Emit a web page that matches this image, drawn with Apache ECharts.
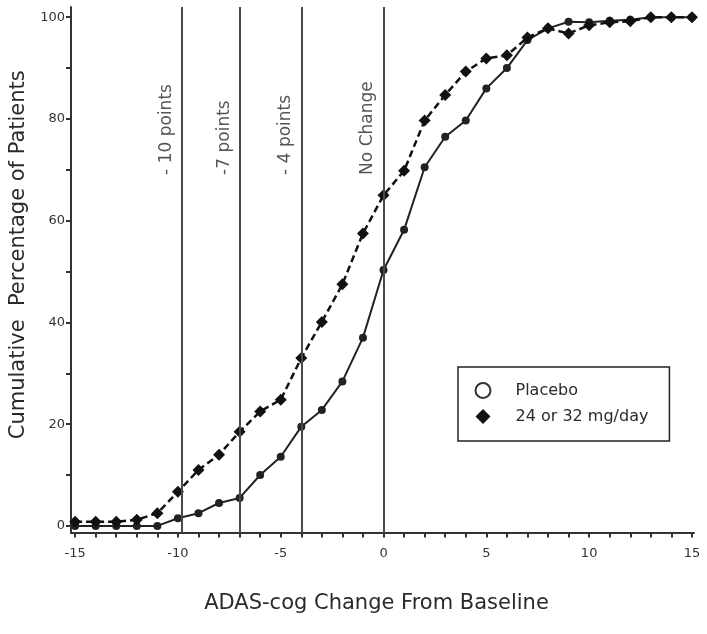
<!DOCTYPE html>
<html><head><meta charset="utf-8">
<script src="https://cdn.jsdelivr.net/npm/echarts@6/dist/echarts.min.js"></script>
<style>html,body{margin:0;padding:0;background:#fff}#c{width:707px;height:634px}</style>
</head><body><div id="c"></div>
<script>
// ---- data ----
const changeFromBaseline = [-15,-14,-13,-12,-11,-10,-9,-8,-7,-6,-5,-4,-3,-2,-1,0,1,2,3,4,5,6,7,8,9,10,11,12,13,14,15];
const placebo = [0,0,0,0,0,1.5,2.5,4.5,5.5,10,13.6,19.5,22.8,28.4,37,50.3,58.2,70.5,76.5,79.7,86,90,95.5,97.8,99.1,99,99.3,99.5,100,100,100];
const drug = [0.8,0.8,0.8,1.2,2.5,6.7,11,14,18.5,22.5,24.8,33,40.1,47.5,57.5,65,69.8,79.7,84.7,89.3,91.9,92.5,96,97.8,96.8,98.4,99,99.2,100,100,100];
const seriesNames = ['Placebo', '24 or 32 mg/day'];
const xTickValues = [-15,-14,-13,-12,-11,-10,-9,-8,-7,-6,-5,-4,-3,-2,-1,0,1,2,3,4,5,6,7,8,9,10,11,12,13,14,15];
const xLabelValues = [-15,-10,-5,0,5,10,15];
const yTickValues = [0,10,20,30,40,50,60,70,80,90,100];
const yLabelValues = [0,20,40,60,80,100];
const refLineValues = [-9.8,-7,-4,0];
const refLineLabels = ['- 10 points', '-7 points', '- 4 points', 'No Change'];
const xTitle = 'ADAS-cog Change From Baseline';
const yTitle = 'Cumulative  Percentage of Patients';

// ---- chart ----
const FONT = 'DejaVu Sans';
const refLabelAnchorY = 69;
const chart = echarts.init(document.getElementById('c'), null, {renderer: 'canvas'});
const pairs = (ys) => changeFromBaseline.map((x, i) => [x, ys[i]]);

chart.setOption({
  animation: false,
  backgroundColor: '#fff',
  textStyle: {fontFamily: FONT},
  grid: {left: 71, right: 13, top: 7, bottom: 101.5, containLabel: false},
  legend: {
    show: true,
    orient: 'vertical',
    left: 458, top: 367,
    padding: [15, 21, 16, 16.5],
    itemGap: 9,
    itemWidth: 15, itemHeight: 15,
    borderColor: '#222', borderWidth: 1.5,
    backgroundColor: '#fff',
    textStyle: {fontFamily: FONT, fontSize: 16, color: '#2a2a2a', padding: [0,0,0,20], lineHeight: 17},
    data: [
      {name: seriesNames[0], icon: 'circle', itemStyle: {color: '#fff', borderColor: '#333', borderWidth: 2}},
      {name: seriesNames[1], icon: 'diamond', itemStyle: {color: '#111', borderWidth: 0}}
    ]
  },
  xAxis: {
    type: 'value', min: -15.2, max: 15.1,
    name: xTitle, nameLocation: 'middle', nameGap: 61,
    nameTextStyle: {fontFamily: FONT, fontSize: 21, color: '#2a2a2a', padding: [0, 12, 0, 0]},
    axisLine: {show: true, onZero: false, lineStyle: {color: '#333', width: 2}},
    axisTick: {show: true, length: 5, lineStyle: {color: '#333', width: 2}, customValues: xTickValues},
    axisLabel: {show: true, fontSize: 13, color: '#333', margin: 15, customValues: xLabelValues},
    splitLine: {show: false}
  },
  yAxis: {
    type: 'value', min: -1.3, max: 102,
    name: yTitle, nameLocation: 'middle', nameGap: 37, nameRotate: 90,
    nameTextStyle: {fontFamily: FONT, fontSize: 21, color: '#2a2a2a', padding: [0, 0, 0, 30]},
    axisLine: {show: true, onZero: false, lineStyle: {color: '#333', width: 2}},
    axisTick: {show: true, length: 5, lineStyle: {color: '#333', width: 2}, customValues: yTickValues},
    axisLabel: {show: true, fontSize: 13, color: '#333', margin: 6, customValues: yLabelValues},
    splitLine: {show: false}
  },
  series: [
    {
      name: seriesNames[0], type: 'line', data: pairs(placebo),
      symbol: 'circle', symbolSize: 8,
      itemStyle: {color: '#222'},
      lineStyle: {color: '#222', width: 2},
      z: 3,
      markLine: {
        silent: true, symbol: 'none',
        lineStyle: {color: '#4a4a4a', width: 2, type: 'solid'},
        label: {show: false},
        data: refLineValues.map(v => ({xAxis: v}))
      }
    },
    {
      name: seriesNames[1], type: 'line', data: pairs(drug),
      symbol: 'diamond', symbolSize: 12,
      itemStyle: {color: '#111'},
      lineStyle: {color: '#111', width: 2.5, type: [7, 4]},
      z: 4
    },
    {
      name: 'refLabels', type: 'scatter', silent: true,
      data: refLineValues.map(v => [v, refLabelAnchorY]),
      symbolSize: 0,
      label: {
        show: true, position: 'inside', rotate: 90,
        align: 'left', verticalAlign: 'bottom',
        padding: [0, 0, 7, 0],
        fontFamily: FONT, fontSize: 17, color: '#2a2a2a',
        formatter: p => refLineLabels[p.dataIndex]
      }
    }
  ]
});
</script>
</body></html>
